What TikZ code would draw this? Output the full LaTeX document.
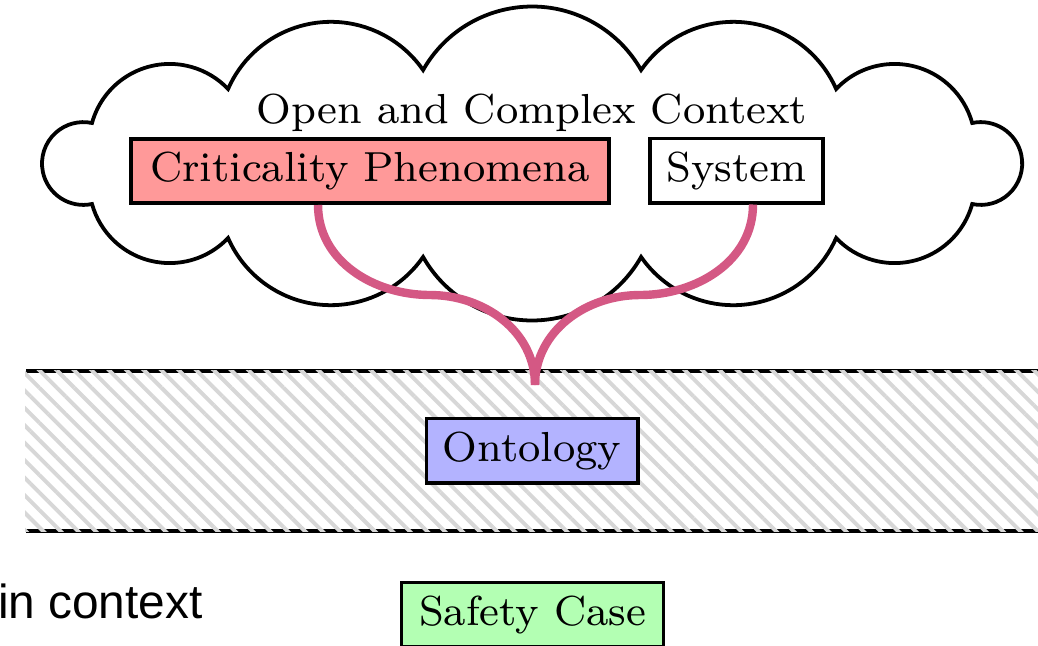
\documentclass[tikz,border=0pt]{standalone}
\usepackage{fontspec}
\newfontfamily\helv{Liberation Sans}
\usetikzlibrary{patterns.meta}
\definecolor{linkpink}{RGB}{212,88,132}
\definecolor{critred}{RGB}{255,153,153}
\definecolor{ontoblue}{RGB}{179,179,255}
\definecolor{safegreen}{RGB}{179,255,179}
\definecolor{hatchgray}{RGB}{215,215,215}
\begin{document}
\begin{tikzpicture}[x=0.19048pt,y=0.19048pt,
  box/.style={draw=black,line width=0.75pt,inner sep=0pt,minimum height=12.2pt,font=\footnotesize},
  link/.style={draw=linkpink,line width=1.6pt},
  cloudline/.style={draw=black,line width=0.72pt,line join=miter},
  bandline/.style={draw=black,line width=0.75pt}]
\useasboundingbox (0,0) rectangle (1038,645);
\clip (0,0) rectangle (1038,645);
% cloud
\begin{scope}[shift={(532,481.5)}]
\draw[cloudline, fill=white] (-440,40.5)
  arc[start angle=164.5,end angle=43.57,radius=80.6]
  arc[start angle=156.3,end angle=34.8,radius=112.3]
  arc[start angle=150.45,end angle=29.55,radius=125.3]
  arc[start angle=145.2,end angle=23.7,radius=112.3]
  arc[start angle=136.43,end angle=15.5,radius=80.6]
  arc[start angle=102,end angle=-102,radius=41.4]
  arc[start angle=-15.5,end angle=-136.43,radius=80.6]
  arc[start angle=-23.7,end angle=-145.2,radius=112.3]
  arc[start angle=-29.55,end angle=-150.45,radius=125.3]
  arc[start angle=-34.8,end angle=-156.3,radius=112.3]
  arc[start angle=-43.57,end angle=-164.5,radius=80.6]
  arc[start angle=-78,end angle=-282,radius=41.4] -- cycle;
\end{scope}
\node[font=\footnotesize, anchor=base] (ctx) at (532,522) {Open and Complex Context};
\node[box, fill=critred, minimum width=91.2pt] (crit) at (370,474) {Criticality Phenomena};
\node[box, fill=white, minimum width=32.8pt] (sys) at (736.5,474.5) {System};
% band
\draw[bandline] (26,274.3) -- (1040,274.3);
\draw[bandline] (26,114) -- (1040,114);
\fill[pattern={Lines[angle=-45,distance=2.35pt,line width=0.75pt]}, pattern color=hatchgray] (25,114) rectangle (1040,274.3);
\node[box, fill=ontoblue, minimum width=40.2pt] (onto) at (532,194.5) {Ontology};
\node[box, fill=safegreen, minimum width=49.9pt] (safe) at (532.5,30.5) {Safety Case};
\node[font={\fontsize{9.1pt}{11pt}\selectfont\helv}, anchor=base west, inner sep=0pt] (inctx) at (-3,27) {in context};
% links
\coordinate (join) at (535,260);
\coordinate (lmid) at (430,350);
\coordinate (rmid) at (640,350);
\draw[link] ([xshift=-9.9pt]crit.south) to[out=-90,in=180] (lmid) to[out=0,in=90] (join);
\draw[link] ([xshift=3.14pt]sys.south) to[out=-90,in=0] (rmid) to[out=180,in=90] (join);
\end{tikzpicture}
\end{document}
